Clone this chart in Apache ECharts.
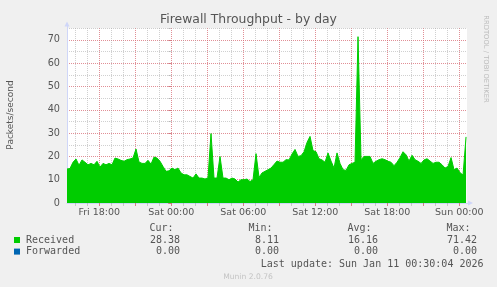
<!DOCTYPE html>
<html><head><meta charset="utf-8">
<script src="https://cdn.jsdelivr.net/npm/echarts@6/dist/echarts.min.js"></script>
<style>html,body{margin:0;padding:0;background:#f0f0f0;}#c{width:497px;height:287px;}</style>
</head><body><div id="c"></div>
<script>
// ---- data ----
const titleText = 'Firewall Throughput - by day';
const yAxisName = 'Packets/second';
const xTickHours = [-6, 0, 6, 12, 18, 24];           // hours relative to Sat 00:00
const xTickLabels = ['Fri 18:00', 'Sat 00:00', 'Sat 06:00', 'Sat 12:00', 'Sat 18:00', 'Sun 00:00'];
const yTickValues = [0, 10, 20, 30, 40, 50, 60, 70];
const START_HOUR = -8.69;   // first sample, hours relative to Sat 00:00
const STEP_HOURS = 0.25;    // sample spacing
const END_HOUR = 24.64;     // right end of the time axis
const received = [
  14.6, 14.8, 17.5, 18.9, 16.2, 18.5, 17.5, 16.4, 17, 16.4,
  17.9, 15.4, 17, 16.4, 17, 16.4, 19.3, 18.9, 18.3, 17.9,
  18.6, 18.9, 19.3, 23.2, 17.6, 17, 17, 18.3, 16.7, 19.7,
  19.3, 17.9, 15.7, 13.6, 13.8, 15, 14.3, 15, 12.9, 12.1,
  12.1, 11.4, 10.7, 12.5, 10.7, 10.7, 10.3, 10.8, 29.8, 10.7,
  10.7, 20, 10.7, 10.7, 10, 10.7, 10.3, 9, 10, 10,
  10.3, 9.2, 10, 21.2, 11, 12.9, 13.6, 14.3, 15, 16.5,
  18, 17.5, 17.5, 18.6, 18.5, 21, 23, 20, 20.3, 22,
  26, 28.6, 22.5, 22, 19, 18.5, 17.5, 21.5, 18, 15,
  21.5, 17, 14.3, 14, 16.4, 17, 17.5, 71.4, 18.6, 20,
  20, 20, 17, 17.9, 18.6, 19, 18.6, 17.9, 17.5, 16,
  17.5, 19.5, 22, 20.7, 18, 20.5, 18.6, 17.9, 17, 18.5,
  19, 18, 17, 17.5, 17.5, 16.4, 15, 15.7, 19.5, 14.3,
  15, 13, 12, 28.38
];
const legendNames = ['Received', 'Forwarded'];
const legendColors = ['#00cc00', '#0066b3'];
const statHeaders = ['Cur:', 'Min:', 'Avg:', 'Max:'];
const receivedStats = ['28.38', '8.11', '16.16', '71.42'];
const forwardedStats = ['0.00', '0.00', '0.00', '0.00'];
const lastUpdate = 'Last update: Sun Jan 11 00:30:04 2026';
const versionText = 'Munin 2.0.76';
const sideText = 'RRDTOOL / TOBI OETIKER';

// ---- style ----
const RED = 'rgba(215,105,115,0.75)';
const GRAY = 'rgba(150,150,150,0.45)';
const AXIS = '#CFD6F8';
const FONT = 'DejaVu Sans';
const MONO = 'DejaVu Sans Mono';
const TXT = '#555';

const hourLines = [];
for (let h = Math.ceil(START_HOUR); h <= Math.floor(END_HOUR); h++) hourLines.push(h);
const majorHours = hourLines.filter(h => h % 3 === 0);

const seriesData = received.map((v, i) => [START_HOUR + i * STEP_HOURS, v]);

const graphic = [
  {type: 'text', x: 248.5, y: 19.5, style: {text: titleText, font: '12.4px "' + FONT + '"', fill: TXT, align: 'center', verticalAlign: 'middle'}},
  {type: 'text', x: 10.5, y: 115, rotation: Math.PI / 2, style: {text: yAxisName, font: '9px "' + FONT + '"', fill: TXT, align: 'center', verticalAlign: 'middle'}},
  {type: 'text', x: 486, y: 59, rotation: -Math.PI / 2, style: {text: sideText, font: '6.8px "' + FONT + '"', fill: '#bbb', align: 'center', verticalAlign: 'middle'}},
  {type: 'text', x: 483.5, y: 264, style: {text: lastUpdate, font: '10px "' + MONO + '"', fill: TXT, align: 'right', verticalAlign: 'middle'}},
  {type: 'text', x: 248, y: 277, style: {text: versionText, font: '7.6px "' + FONT + '"', fill: '#c4c4c4', align: 'center', verticalAlign: 'middle'}}
];
const colX = [180, 279, 378, 477];
const headX = [149.5, 248.5, 347.5, 446.5];
statHeaders.forEach((h, k) => graphic.push({type: 'text', x: headX[k], y: 228.5, style: {text: h, font: '10px "' + MONO + '"', fill: TXT, align: 'left', verticalAlign: 'middle'}}));
[receivedStats, forwardedStats].forEach((row, r) => {
  const y = 240 + r * 11.6;
  graphic.push({type: 'rect', shape: {x: 14, y: y - 3, width: 6, height: 6}, style: {fill: legendColors[r]}});
  graphic.push({type: 'text', x: 26, y: y, style: {text: legendNames[r], font: '10px "' + MONO + '"', fill: TXT, align: 'left', verticalAlign: 'middle'}});
  row.forEach((v, k) => graphic.push({type: 'text', x: colX[k], y: y, style: {text: v, font: '10px "' + MONO + '"', fill: TXT, align: 'right', verticalAlign: 'middle'}}));
});

const chart = echarts.init(document.getElementById('c'), null, {renderer: 'canvas'});
chart.setOption({
  animation: false,
  backgroundColor: '#f0f0f0',
  grid: [
    {left: 67, right: 30, top: 28.3, bottom: 84, show: true, backgroundColor: '#ffffff', borderWidth: 0},
    {left: 67, right: 26.5, top: 24, bottom: 84, show: false}
  ],
  xAxis: [
    {gridIndex: 0, type: 'value', position: 'bottom', min: START_HOUR, max: END_HOUR,
      axisLine: {show: false}, splitLine: {show: false},
      axisTick: {show: true, length: 3, customValues: hourLines, lineStyle: {color: GRAY}},
      axisLabel: {show: true, customValues: xTickHours, margin: 5, color: TXT, fontFamily: FONT, fontSize: 9.5,
        formatter: v => { const k = xTickHours.indexOf(Math.round(v)); return k >= 0 ? xTickLabels[k] : ''; }}},
    {gridIndex: 0, type: 'value', position: 'bottom', min: START_HOUR, max: END_HOUR,
      axisLine: {show: false}, splitLine: {show: false}, axisLabel: {show: false},
      axisTick: {show: true, length: 3, customValues: majorHours, lineStyle: {color: RED}}},
    {gridIndex: 1, type: 'value', min: 0, max: 1, position: 'bottom',
      axisLine: {show: true, onZero: false, symbol: ['none', 'triangle'], symbolSize: [5, 5], lineStyle: {color: AXIS, width: 1}},
      axisTick: {show: false}, axisLabel: {show: false}, splitLine: {show: false}}
  ],
  yAxis: [
    {gridIndex: 0, type: 'value', position: 'left', min: 0, max: 75, interval: 5,
      axisLine: {show: false},
      axisTick: {show: true, length: 3, lineStyle: {color: GRAY}},
      axisLabel: {margin: 7, color: TXT, fontFamily: FONT, fontSize: 9.7,
        formatter: v => yTickValues.indexOf(v) >= 0 ? String(v) : ''},
      splitLine: {show: true, lineStyle: {color: [RED, GRAY], type: [1, 1], width: 1}}},
    {gridIndex: 0, type: 'value', position: 'left', min: 0, max: 75,
      axisLine: {show: false}, splitLine: {show: false}, axisLabel: {show: false},
      axisTick: {show: true, length: 3, customValues: yTickValues, lineStyle: {color: RED}}},
    {gridIndex: 1, type: 'value', min: 0, max: 1, position: 'left',
      axisLine: {show: true, onZero: false, symbol: ['none', 'triangle'], symbolSize: [5, 5], lineStyle: {color: AXIS, width: 1}},
      axisTick: {show: false}, axisLabel: {show: false}, splitLine: {show: false}}
  ],
  series: [{
    name: legendNames[0], type: 'line', xAxisIndex: 0, yAxisIndex: 0,
    data: seriesData, showSymbol: false, symbol: 'none',
    lineStyle: {color: legendColors[0], width: 1},
    areaStyle: {color: legendColors[0], opacity: 1},
    itemStyle: {color: legendColors[0]},
    z: 3,
    markLine: {
      silent: true, symbol: ['none', 'none'], z: 1, animation: false,
      label: {show: false},
      data: hourLines.map(h => ({xAxis: h, lineStyle: {color: h % 3 === 0 ? RED : GRAY, type: [1, 1], width: 1}}))
    }
  }],
  graphic: graphic
});
</script></body></html>
